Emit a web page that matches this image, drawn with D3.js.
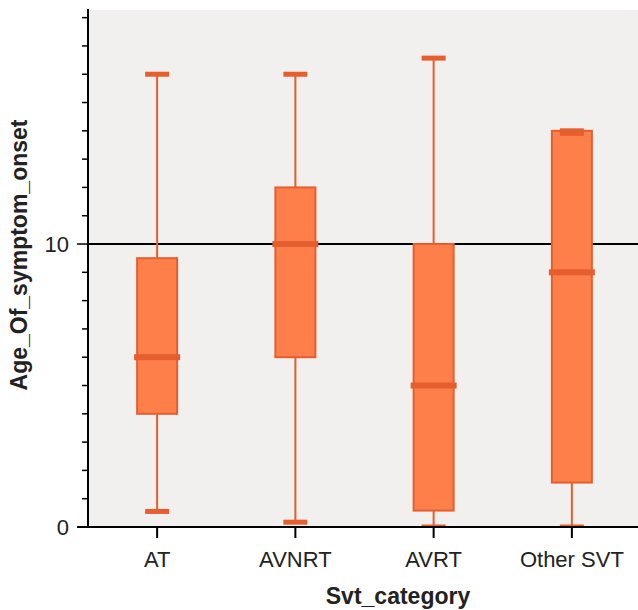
<!DOCTYPE html>
<html>
<head>
<meta charset="utf-8">
<script src="https://cdn.jsdelivr.net/npm/d3@7"></script>
<style>
  body { margin: 0; background: #fff; }
  text { font-family: "Liberation Sans", Arial, Helvetica, sans-serif; }
</style>
</head>
<body>
<div id="chart"></div>
<script>
// box plot stats
const categories = ["AT", "AVNRT", "AVRT", "Other SVT"];
const whiskerLow = [0.55, 0.17, 0, 0];
const q1 = [4, 6, 0.58, 1.57];
const median = [6, 10, 5, 9];
const q3 = [9.5, 12, 10, 14];
const whiskerHigh = [16, 16, 16.57, 14];
const yTicks = d3.range(0, 19);
const yTickLabels = [0, 10];
const refLine = 10;

const width = 638, height = 610;
const plot = { left: 88, right: 641, top: 10, bottom: 527 };

const fill = "#FF7F4A";
const stroke = "#E65E2E";

const svg = d3.select("#chart").append("svg")
    .attr("width", width)
    .attr("height", height);

const x = d3.scaleBand()
    .domain(categories)
    .range([plot.left, plot.right])
    .padding(0);

const y = d3.scaleLinear()
    .domain([0, 18.27])
    .range([plot.bottom, plot.top]);

// plot background
svg.append("rect")
    .attr("x", plot.left)
    .attr("y", plot.top)
    .attr("width", plot.right - plot.left)
    .attr("height", plot.bottom - plot.top)
    .attr("fill", "#F1F0EF");

svg.append("clipPath").attr("id", "clip")
    .append("rect")
    .attr("x", plot.left)
    .attr("y", plot.top)
    .attr("width", plot.right - plot.left)
    .attr("height", plot.bottom - plot.top);

// reference line
svg.append("line")
    .attr("x1", plot.left).attr("x2", plot.right)
    .attr("y1", y(refLine)).attr("y2", y(refLine))
    .attr("stroke", "#000")
    .attr("stroke-width", 2);

const data = categories.map((c, i) => ({
    cat: c, lo: whiskerLow[i], q1: q1[i], med: median[i], q3: q3[i], hi: whiskerHigh[i]
}));

const boxW = 40, capW = 24, medW = 46;

const g = svg.append("g").attr("clip-path", "url(#clip)")
    .selectAll("g.box")
    .data(data)
    .enter().append("g")
    .attr("class", "box")
    .attr("transform", d => `translate(${x(d.cat) + x.bandwidth() / 2},0)`);

// whiskers
g.append("line")
    .attr("y1", d => y(d.lo)).attr("y2", d => y(d.hi))
    .attr("stroke", stroke)
    .attr("stroke-width", 2);

// caps
g.selectAll("rect.cap")
    .data(d => [d.lo, d.hi])
    .enter().append("rect")
    .attr("class", "cap")
    .attr("x", -capW / 2)
    .attr("y", v => y(v) - 2.5)
    .attr("width", capW)
    .attr("height", 5)
    .attr("fill", stroke);

// box
g.append("rect")
    .attr("x", -boxW / 2)
    .attr("y", d => y(d.q3))
    .attr("width", boxW)
    .attr("height", d => y(d.q1) - y(d.q3))
    .attr("fill", fill)
    .attr("stroke", stroke)
    .attr("stroke-width", 2);

// top cap redrawn over box (Other SVT cap sits on the box top)
g.filter(d => d.hi <= d.q3).append("rect")
    .attr("x", -capW / 2)
    .attr("y", d => y(d.hi))
    .attr("width", capW)
    .attr("height", 5)
    .attr("fill", stroke);

// median
g.append("rect")
    .attr("x", -medW / 2)
    .attr("y", d => y(d.med) - 3)
    .attr("width", medW)
    .attr("height", 6)
    .attr("fill", stroke);

// y axis
const yAxis = svg.append("g");
yAxis.append("line")
    .attr("x1", plot.left).attr("x2", plot.left)
    .attr("y1", plot.top - 1).attr("y2", plot.bottom)
    .attr("stroke", "#000").attr("stroke-width", 2);
yAxis.selectAll("line.tick")
    .data(yTicks)
    .enter().append("line")
    .attr("class", "tick")
    .attr("x1", t => plot.left - (yTickLabels.includes(t) ? 11 : 6))
    .attr("x2", plot.left)
    .attr("y1", t => y(t)).attr("y2", t => y(t))
    .attr("stroke", "#000").attr("stroke-width", 1.5);
yAxis.selectAll("text")
    .data(yTickLabels)
    .enter().append("text")
    .attr("x", plot.left - 19)
    .attr("y", t => y(t))
    .attr("dy", "0.36em")
    .attr("text-anchor", "end")
    .attr("font-size", 22)
    .attr("fill", "#222")
    .text(t => t);

// x axis
const xAxis = svg.append("g");
xAxis.append("line")
    .attr("x1", plot.left - 11).attr("x2", width)
    .attr("y1", plot.bottom).attr("y2", plot.bottom)
    .attr("stroke", "#000").attr("stroke-width", 2);
xAxis.selectAll("line.tick")
    .data(categories)
    .enter().append("line")
    .attr("class", "tick")
    .attr("x1", c => x(c) + x.bandwidth() / 2)
    .attr("x2", c => x(c) + x.bandwidth() / 2)
    .attr("y1", plot.bottom).attr("y2", plot.bottom + 11)
    .attr("stroke", "#000").attr("stroke-width", 2);
xAxis.selectAll("text")
    .data(categories)
    .enter().append("text")
    .attr("x", c => x(c) + x.bandwidth() / 2)
    .attr("y", 567)
    .attr("text-anchor", "middle")
    .attr("font-size", 22)
    .attr("fill", "#222")
    .text(c => c);

// axis titles
svg.append("text")
    .attr("x", 398)
    .attr("y", 604)
    .attr("text-anchor", "middle")
    .attr("font-size", 23)
    .attr("font-weight", "bold")
    .attr("fill", "#222")
    .text("Svt_category");

svg.append("text")
    .attr("transform", "translate(27,255) rotate(-90)")
    .attr("text-anchor", "middle")
    .attr("font-size", 23)
    .attr("font-weight", "bold")
    .attr("fill", "#222")
    .text("Age_Of_symptom_onset");
</script>
</body>
</html>
